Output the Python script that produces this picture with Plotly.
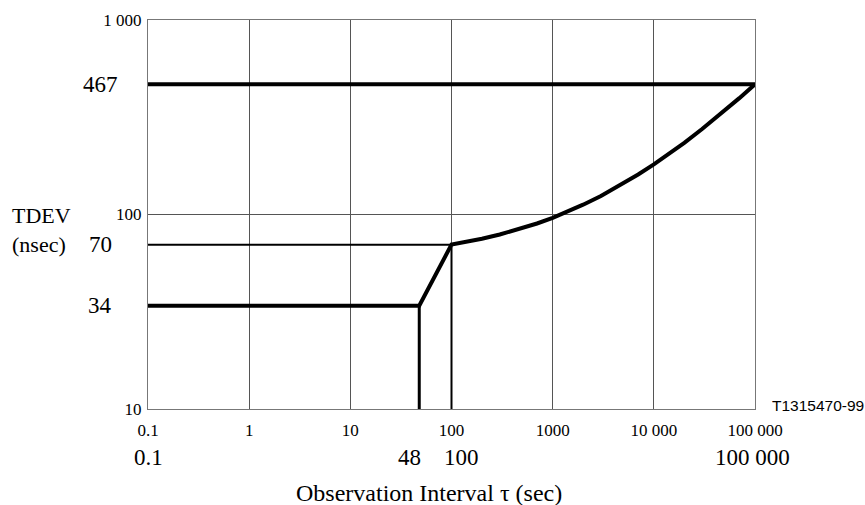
import math
import plotly.graph_objects as go

# TDEV mask values (nsec) against observation interval tau (sec)
flat_tau = [0.1, 48]
flat_tdev = [34, 34]
curve_tau = [100, 150, 200, 300, 500, 700, 1000, 1500, 2000, 3000, 5000,
             7000, 10000, 15000, 20000, 30000, 50000, 70000, 100000]
curve_tdev = [70, 72.7, 75.0, 78.9, 85.0, 89.9, 96.2, 105.0, 112.3, 124.6, 144.4,
              160.5, 181.0, 209.5, 233.7, 275.0, 341.3, 396.4, 467]
upper_tdev = 467
mid_tdev = 70
corner_tau = [48, 100]

x_tick_vals = [0.1, 1, 10, 100, 1000, 10000, 100000]
x_tick_text = ["0.1", "1", "10", "100", "1000", "10 000", "100 000"]
y_tick_vals = [10, 100, 1000]
y_tick_text = ["10", "100", "1 000"]

big_x_labels = [(0.1, "0.1", 0), (48, "48", -10), (100, "100", 10), (100000, "100 000", -3)]
big_y_labels = [(467, "467"), (70, "70"), (34, "34")]

SERIF = "Liberation Serif, Times New Roman, serif"
INK = "black"

fig = go.Figure()

# upper horizontal limit
fig.add_trace(go.Scatter(x=[x_tick_vals[0], x_tick_vals[-1]], y=[upper_tdev, upper_tdev],
                         mode="lines", line=dict(color=INK, width=4), hoverinfo="skip"))
# 70 nsec reference line
fig.add_trace(go.Scatter(x=[x_tick_vals[0], corner_tau[1]], y=[mid_tdev, mid_tdev],
                         mode="lines", line=dict(color=INK, width=2), hoverinfo="skip"))
# vertical drops at 48 s and 100 s
fig.add_trace(go.Scatter(x=[corner_tau[0], corner_tau[0]], y=[10, flat_tdev[-1]],
                         mode="lines", line=dict(color=INK, width=3), hoverinfo="skip"))
fig.add_trace(go.Scatter(x=[corner_tau[1], corner_tau[1]], y=[10, mid_tdev],
                         mode="lines", line=dict(color=INK, width=2), hoverinfo="skip"))
# mask curve
fig.add_trace(go.Scatter(x=flat_tau + curve_tau, y=flat_tdev + curve_tdev,
                         mode="lines", line=dict(color=INK, width=4), hoverinfo="skip"))

annotations = []
for v, t, dx in big_x_labels:
    annotations.append(dict(x=math.log10(v), y=0, xref="x", yref="paper", text=t,
                            showarrow=False, xanchor="center", yanchor="middle",
                            yshift=-48, xshift=dx, font=dict(family=SERIF, size=23, color=INK)))
for v, t in big_y_labels:
    annotations.append(dict(x=0, y=math.log10(v), xref="paper", yref="y", text=t,
                            showarrow=False, xanchor="center", yanchor="middle",
                            xshift=-48, font=dict(family=SERIF, size=23, color=INK)))
annotations += [
    dict(x=0, y=math.log10(100), xref="paper", yref="y", text="TDEV<br>(nsec)",
         showarrow=False, xanchor="center", yanchor="middle", xshift=-107, yshift=-15,
         align="left", font=dict(family=SERIF, size=22, color=INK)),
    dict(x=math.log10(60), y=0, xref="x", yref="paper", text="Observation Interval \u03c4 (sec)",
         showarrow=False, xanchor="center", yanchor="middle", yshift=-84,
         font=dict(family=SERIF, size=24, color=INK)),
    dict(x=1, y=0, xref="paper", yref="paper", text="T1315470-99",
         showarrow=False, xanchor="left", yanchor="middle", xshift=15, yshift=4,
         font=dict(family="Liberation Sans, Arial, sans-serif", size=15.5, color=INK)),
]

fig.update_layout(
    width=865, height=505,
    margin=dict(l=148, r=110, t=20, b=96),
    paper_bgcolor="white", plot_bgcolor="white",
    showlegend=False,
    annotations=annotations,
    xaxis=dict(type="log", range=[-1, 5], tickvals=x_tick_vals, ticktext=x_tick_text,
               showgrid=True, gridcolor="#555", gridwidth=1, zeroline=False,
               showline=True, linecolor="#777", linewidth=1, mirror=True,
               ticks="", ticklabelstandoff=6,
               tickfont=dict(family=SERIF, size=17, color=INK)),
    yaxis=dict(type="log", range=[1, 3], tickvals=y_tick_vals, ticktext=y_tick_text,
               showgrid=True, gridcolor="#555", gridwidth=1, zeroline=False,
               showline=True, linecolor="#777", linewidth=1, mirror=True,
               ticks="", ticklabelstandoff=2,
               tickfont=dict(family=SERIF, size=17, color=INK)),
)

fig.write_html("out.html")
